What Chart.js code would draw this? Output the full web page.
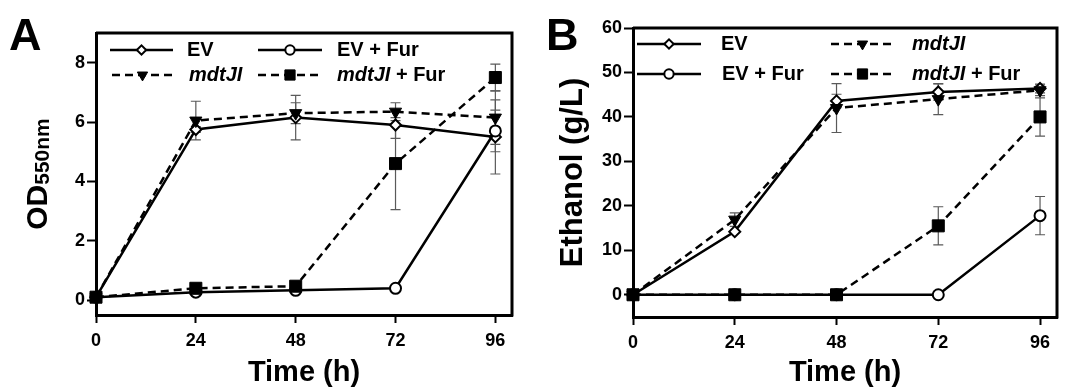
<!DOCTYPE html>
<html lang="en">
<head>
<meta charset="UTF-8">
<title>Growth and ethanol production</title>
<script src="https://cdn.jsdelivr.net/npm/chart.js"></script>
<style>
  html, body { margin: 0; padding: 0; background: #fff; }
  .panel { position: absolute; top: 0; width: 534px; height: 392px; }
  #panelA { left: 0; }
  #panelB { left: 534px; }
</style>
</head>
<body>
<div class="panel" id="panelA"><canvas id="odChart" width="534" height="392"></canvas></div>
<div class="panel" id="panelB"><canvas id="ethanolChart" width="534" height="392"></canvas></div>
<script>
const FONT = "'Liberation Sans', Arial, sans-serif";

// sampling times (h)
const hours = [0, 24, 48, 72, 96];
const timeTicks = [0, 24, 48, 72, 96];

// panel A: OD550nm (mean, SD)
const odTicks = [0, 2, 4, 6, 8];
const odEV = [0.1, 5.75, 6.15, 5.9, 5.5];
const odEVSd = [0, 0.1, 0.75, 0.45, 1.25];
const odMdt = [0.1, 6.05, 6.3, 6.35, 6.15];
const odMdtSd = [0, 0.65, 0.35, 0.3, 0.9];
const odEVFur = [0.1, 0.27, 0.33, 0.4, 5.7];
const odEVFurSd = [0, 0, 0, 0, 0.7];
const odMdtFur = [0.1, 0.4, 0.47, 4.6, 7.5];
const odMdtFurSd = [0, 0, 0, 1.55, 0.45];

// panel B: ethanol g/L (mean, SD)
const ethTicks = [0, 10, 20, 30, 40, 50, 60];
const ethEV = [0, 14.2, 43.6, 45.6, 46.4];
const ethEVSd = [0, 0, 1.5, 1.8, 1.0];
const ethMdt = [0, 16.9, 42, 44, 46];
const ethMdtSd = [0, 1.5, 5.5, 3.5, 1.2];
const ethEVFur = [0, 0, 0, 0, 17.8];
const ethEVFurSd = [0, 0, 0, 0, 4.3];
const ethMdtFur = [0, 0, 0, 15.5, 40];
const ethMdtFurSd = [0, 0, 0, 4.3, 4.3];

const styles = {
  'EV':         { pointStyle: 'rectRot', pointRadius: 5.5, pointBackgroundColor: '#fff', pointBorderWidth: 2, dash: [] },
  'EV + Fur':   { pointStyle: 'circle', pointRadius: 5.5, pointBackgroundColor: '#fff', pointBorderWidth: 2, dash: [] },
  'mdtJI':      { pointStyle: 'triangle', pointRotation: 180, pointRadius: 7, pointBackgroundColor: '#000', pointBorderWidth: 1, dash: [8, 5] },
  'mdtJI + Fur':{ pointStyle: 'rect', pointRadius: 8.5, pointBackgroundColor: '#000', pointBorderWidth: 1, dash: [8, 5] }
};

function series(label, values, sd, order) {
  const s = styles[label];
  return {
    label,
    data: hours.map((h, i) => ({ x: h, y: values[i] })),
    errors: sd,
    order,
    borderColor: '#000',
    borderWidth: 2.5,
    borderDash: s.dash,
    pointStyle: s.pointStyle,
    pointRotation: s.pointRotation || 0,
    pointRadius: s.pointRadius,
    pointBackgroundColor: s.pointBackgroundColor,
    pointBorderColor: '#000',
    pointBorderWidth: s.pointBorderWidth,
    tension: 0,
    clip: false
  };
}

function drawParts(ctx, parts, x, y, align) {
  let total = 0;
  parts.forEach(p => { ctx.font = p.font; total += ctx.measureText(p.t).width; });
  let cx = align === 'center' ? x - total / 2 : x;
  parts.forEach(p => {
    ctx.font = p.font;
    ctx.fillText(p.t, cx, y + (p.dy || 0));
    cx += ctx.measureText(p.t).width;
  });
}

// error bars, frame, legend, axis titles and panel letter
const panelDecor = {
  id: 'panelDecor',
  beforeDatasetsDraw(chart) {
    const ctx = chart.ctx, xs = chart.scales.x, ys = chart.scales.y;
    ctx.save();
    ctx.strokeStyle = '#5a5a5a';
    ctx.lineWidth = 1.2;
    chart.data.datasets.forEach(ds => {
      ds.data.forEach((p, i) => {
        const e = ds.errors[i];
        if (!e) return;
        const x = xs.getPixelForValue(p.x);
        const y1 = ys.getPixelForValue(p.y + e), y2 = ys.getPixelForValue(p.y - e);
        ctx.beginPath();
        ctx.moveTo(x, y1); ctx.lineTo(x, y2);
        ctx.moveTo(x - 5, y1); ctx.lineTo(x + 5, y1);
        ctx.moveTo(x - 5, y2); ctx.lineTo(x + 5, y2);
        ctx.stroke();
      });
    });
    ctx.restore();
  },
  afterDraw(chart, args, o) {
    const ctx = chart.ctx, a = chart.chartArea;
    ctx.save();
    // top and right frame
    ctx.strokeStyle = '#000';
    ctx.lineWidth = 3;
    ctx.beginPath();
    ctx.moveTo(a.left, a.top);
    ctx.lineTo(a.right, a.top);
    ctx.lineTo(a.right, a.bottom + 1.5);
    ctx.stroke();

    // legend
    ctx.fillStyle = '#000';
    ctx.textBaseline = 'middle';
    o.legend.forEach(it => {
      const ds = chart.data.datasets.find(d => d.label === it.label);
      ctx.save();
      ctx.strokeStyle = '#000';
      ctx.lineWidth = 2.5;
      ctx.setLineDash(ds.borderDash);
      ctx.beginPath();
      ctx.moveTo(it.x0, it.y); ctx.lineTo(it.x1, it.y);
      ctx.stroke();
      ctx.setLineDash([]);
      ctx.fillStyle = ds.pointBackgroundColor;
      ctx.strokeStyle = '#000';
      ctx.lineWidth = ds.pointBorderWidth;
      Chart.helpers.drawPoint(ctx, {
        pointStyle: ds.pointStyle,
        rotation: ds.pointRotation,
        radius: ds.pointRadius * 0.85,
        borderWidth: ds.pointBorderWidth
      }, (it.x0 + it.x1) / 2, it.y);
      ctx.restore();
      const bold = 'bold 20px ' + FONT;
      const parts = it.label.startsWith('mdtJI')
        ? [{ t: 'mdtJI', font: 'italic bold 20px ' + FONT }, { t: it.label.slice(5), font: bold }]
        : [{ t: it.label, font: bold }];
      drawParts(ctx, parts, it.tx, it.y, 'left');
    });

    // x title
    ctx.textBaseline = 'alphabetic';
    ctx.textAlign = 'left';
    drawParts(ctx, [{ t: 'Time (h)', font: 'bold 29px ' + FONT }], (a.left + a.right) / 2, 381, 'center');

    // y title (rotated)
    ctx.save();
    ctx.translate(o.yTitleX, (a.top + a.bottom) / 2);
    ctx.rotate(-Math.PI / 2);
    drawParts(ctx, o.yTitle, 0, 0, 'center');
    ctx.restore();

    // panel letter
    ctx.font = 'bold 45px ' + FONT;
    ctx.fillText(o.letter, o.letterX, 50);
    ctx.restore();
  }
};

function makeChart(id, datasets, yMin, yMax, yTicks, layout, decor) {
  const tickFont = { family: FONT, size: 18, weight: 'bold' };
  const grid = { display: true, drawOnChartArea: false, drawTicks: true, tickLength: 8, tickWidth: 2, tickColor: '#000', color: '#000' };
  return new Chart(document.getElementById(id), {
    type: 'line',
    data: { datasets },
    options: {
      responsive: false,
      animation: false,
      layout: { padding: { top: layout.top, right: layout.right, left: 0, bottom: 0 } },
      plugins: { legend: { display: false }, tooltip: { enabled: false }, panelDecor: decor },
      scales: {
        x: {
          type: 'linear', min: 0, max: 100,
          border: { display: true, color: '#000', width: 3 },
          grid,
          ticks: { color: '#000', font: tickFont, padding: 7, maxRotation: 0 },
          afterBuildTicks: s => { s.ticks = timeTicks.map(v => ({ value: v })); },
          afterFit: s => { s.height = 392 - layout.bottom; }
        },
        y: {
          type: 'linear', min: yMin, max: yMax,
          border: { display: true, color: '#000', width: 3 },
          grid: Object.assign({}, grid, { tickLength: 9 }),
          ticks: { color: '#000', font: tickFont, padding: 2 },
          afterBuildTicks: s => { s.ticks = yTicks.map(v => ({ value: v })); },
          afterFit: s => { s.width = layout.left; }
        }
      }
    },
    plugins: [panelDecor]
  });
}

makeChart('odChart', [
  series('mdtJI + Fur', odMdtFur, odMdtFurSd, 0),
  series('EV + Fur', odEVFur, odEVFurSd, 1),
  series('mdtJI', odMdt, odMdtSd, 2),
  series('EV', odEV, odEVSd, 3)
], -0.5, 9, odTicks, { left: 96, right: 22, top: 33, bottom: 315 }, {
  letter: 'A', letterX: 9,
  yTitleX: 47,
  yTitle: [{ t: 'OD', font: 'bold 30px ' + FONT }, { t: '550nm', font: 'bold 21px ' + FONT, dy: 2 }],
  legend: [
    { label: 'EV', x0: 110, x1: 173, y: 50, tx: 187 },
    { label: 'EV + Fur', x0: 258, x1: 322, y: 50, tx: 337 },
    { label: 'mdtJI', x0: 112, x1: 173, y: 75, tx: 189 },
    { label: 'mdtJI + Fur', x0: 258, x1: 322, y: 75, tx: 337 }
  ]
});

makeChart('ethanolChart', [
  series('mdtJI + Fur', ethMdtFur, ethMdtFurSd, 0),
  series('EV + Fur', ethEVFur, ethEVFurSd, 1),
  series('mdtJI', ethMdt, ethMdtSd, 2),
  series('EV', ethEV, ethEVSd, 3)
], -5, 60, ethTicks, { left: 99, right: 11, top: 28, bottom: 317 }, {
  letter: 'B', letterX: 12,
  yTitleX: 48,
  yTitle: [{ t: 'Ethanol (g/L)', font: 'bold 31px ' + FONT }],
  legend: [
    { label: 'EV', x0: 103, x1: 167, y: 44, tx: 187 },
    { label: 'mdtJI', x0: 297, x1: 360, y: 44, tx: 378 },
    { label: 'EV + Fur', x0: 103, x1: 167, y: 74, tx: 188 },
    { label: 'mdtJI + Fur', x0: 297, x1: 360, y: 74, tx: 378 }
  ]
});
</script>
</body>
</html>
